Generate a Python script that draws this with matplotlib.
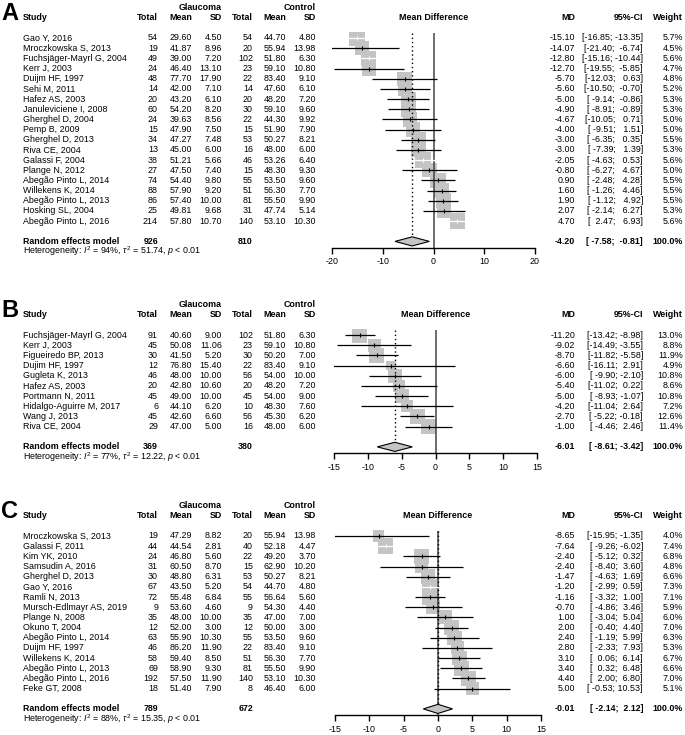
import numpy as np
import matplotlib
matplotlib.use("Agg")
import matplotlib.pyplot as plt
from matplotlib.patches import Rectangle, Polygon
from matplotlib.transforms import blended_transform_factory

plt.rcParams["font.family"] = ["Liberation Sans", "DejaVu Sans"]
plt.rcParams["mathtext.fontset"] = "custom"
plt.rcParams["mathtext.rm"] = "Liberation Sans"
plt.rcParams["mathtext.it"] = "Liberation Sans:italic"
plt.rcParams["mathtext.bf"] = "Liberation Sans:bold"

# ---------------- Panel A ----------------
a_study = ["Gao Y, 2016", "Mroczkowska S, 2013", "Fuchsjäger-Mayrl G, 2004", "Kerr J, 2003",
           "Duijm HF, 1997", "Sehi M, 2011", "Hafez AS, 2003", "Januleviciene I, 2008",
           "Gherghel D, 2004", "Pemp B, 2009", "Gherghel D, 2013", "Riva CE, 2004",
           "Galassi F, 2004", "Plange N, 2012", "Abegão Pinto L, 2014", "Willekens K, 2014",
           "Abegão Pinto L, 2013", "Hosking SL, 2004", "Abegão Pinto L, 2016"]
a_g_n = [54, 19, 49, 24, 48, 14, 20, 60, 24, 15, 34, 13, 38, 27, 74, 88, 86, 25, 214]
a_g_mean = [29.60, 41.87, 39.00, 46.40, 77.70, 42.00, 43.20, 54.20, 39.63, 47.90, 47.27, 45.00,
            51.21, 47.50, 54.40, 57.90, 57.40, 49.81, 57.80]
a_g_sd = [4.50, 8.96, 7.20, 13.10, 17.90, 7.10, 6.10, 8.20, 8.56, 7.50, 7.48, 6.00,
          5.66, 7.40, 9.80, 9.20, 10.00, 9.68, 10.70]
a_c_n = [54, 20, 102, 23, 22, 14, 20, 30, 22, 15, 53, 16, 46, 15, 55, 51, 81, 31, 140]
a_c_mean = [44.70, 55.94, 51.80, 59.10, 83.40, 47.60, 48.20, 59.10, 44.30, 51.90, 50.27, 48.00,
            53.26, 48.30, 53.50, 56.30, 55.50, 47.74, 53.10]
a_c_sd = [4.80, 13.98, 6.30, 10.80, 9.10, 6.10, 7.20, 9.60, 9.92, 7.90, 8.21, 6.00,
          6.40, 9.30, 9.60, 7.70, 9.90, 5.14, 10.30]
a_md = [-15.10, -14.07, -12.80, -12.70, -5.70, -5.60, -5.00, -4.90, -4.67, -4.00, -3.00, -3.00,
        -2.05, -0.80, 0.90, 1.60, 1.90, 2.07, 4.70]
a_lo = [-16.85, -21.40, -15.16, -19.55, -12.03, -10.50, -9.14, -8.91, -10.05, -9.51, -6.35, -7.39,
        -4.63, -6.27, -2.48, -1.26, -1.12, -2.14, 2.47]
a_hi = [-13.35, -6.74, -10.44, -5.85, 0.63, -0.70, -0.86, -0.89, 0.71, 1.51, 0.35, 1.39,
        0.53, 4.67, 4.28, 4.46, 4.92, 6.27, 6.93]
a_w = [5.7, 4.5, 5.6, 4.7, 4.8, 5.2, 5.3, 5.3, 5.0, 5.0, 5.5, 5.3, 5.6, 5.0, 5.5, 5.5, 5.5, 5.3, 5.6]
a_summary = [926, 810, -4.20, -7.58, -0.81]
a_het = ["94%", "51.74"]

# ---------------- Panel B ----------------
b_study = ["Fuchsjäger-Mayrl G, 2004", "Kerr J, 2003", "Figueiredo BP, 2013", "Dujim HF, 1997",
           "Gugleta K, 2013", "Hafez AS, 2003", "Portmann N, 2011", "Hidalgo-Aguirre M, 2017",
           "Wang J, 2013", "Riva CE, 2004"]
b_g_n = [91, 45, 30, 12, 46, 20, 45, 6, 45, 29]
b_g_mean = [40.60, 50.08, 41.50, 76.80, 48.00, 42.80, 49.00, 44.10, 42.60, 47.00]
b_g_sd = [9.00, 11.06, 5.20, 15.40, 10.00, 10.60, 10.00, 6.20, 6.60, 5.00]
b_c_n = [102, 23, 30, 22, 56, 20, 45, 10, 56, 16]
b_c_mean = [51.80, 59.10, 50.20, 83.40, 54.00, 48.20, 54.00, 48.30, 45.30, 48.00]
b_c_sd = [6.30, 10.80, 7.00, 9.10, 10.00, 7.20, 9.00, 7.60, 6.20, 6.00]
b_md = [-11.20, -9.02, -8.70, -6.60, -6.00, -5.40, -5.00, -4.20, -2.70, -1.00]
b_lo = [-13.42, -14.49, -11.82, -16.11, -9.90, -11.02, -8.93, -11.04, -5.22, -4.46]
b_hi = [-8.98, -3.55, -5.58, 2.91, -2.10, 0.22, -1.07, 2.64, -0.18, 2.46]
b_w = [13.0, 8.8, 11.9, 4.9, 10.8, 8.6, 10.8, 7.2, 12.6, 11.4]
b_summary = [369, 380, -6.01, -8.61, -3.42]
b_het = ["77%", "12.22"]

# ---------------- Panel C ----------------
c_study = ["Mroczkowska S, 2013", "Galassi F, 2011", "Kim YK, 2010", "Samsudin A, 2016",
           "Gherghel D, 2013", "Gao Y, 2016", "Ramli N, 2013", "Mursch-Edlmayr AS, 2019",
           "Plange N, 2008", "Okuno T, 2004", "Abegão Pinto L, 2014", "Duijm HF, 1997",
           "Willekens K, 2014", "Abegão Pinto L, 2013", "Abegão Pinto L, 2016", "Feke GT, 2008"]
c_g_n = [19, 44, 24, 31, 30, 67, 72, 9, 35, 12, 63, 46, 58, 69, 192, 18]
c_g_mean = [47.29, 44.54, 46.80, 60.50, 48.80, 43.50, 55.48, 53.60, 48.00, 52.00, 55.90, 86.20,
            59.40, 58.90, 57.50, 51.40]
c_g_sd = [8.82, 2.81, 5.60, 8.70, 6.31, 5.20, 6.84, 4.60, 10.00, 3.00, 10.30, 11.90,
          8.50, 9.30, 11.90, 7.90]
c_c_n = [20, 40, 22, 15, 53, 54, 55, 9, 35, 12, 55, 22, 51, 81, 140, 8]
c_c_mean = [55.94, 52.18, 49.20, 62.90, 50.27, 44.70, 56.64, 54.30, 47.00, 50.00, 53.50, 83.40,
            56.30, 55.50, 53.10, 46.40]
c_c_sd = [13.98, 4.47, 3.70, 10.20, 8.21, 4.80, 5.60, 4.40, 7.00, 3.00, 9.60, 9.10,
          7.70, 9.90, 10.30, 6.00]
c_md = [-8.65, -7.64, -2.40, -2.40, -1.47, -1.20, -1.16, -0.70, 1.00, 2.00, 2.40, 2.80,
        3.10, 3.40, 4.40, 5.00]
c_lo = [-15.95, -9.26, -5.12, -8.40, -4.63, -2.99, -3.32, -4.86, -3.04, -0.40, -1.19, -2.33,
        0.06, 0.32, 2.00, -0.53]
c_hi = [-1.35, -6.02, 0.32, 3.60, 1.69, 0.59, 1.00, 3.46, 5.04, 4.40, 5.99, 7.93,
        6.14, 6.48, 6.80, 10.53]
c_w = [4.0, 7.4, 6.8, 4.8, 6.6, 7.3, 7.1, 5.9, 6.0, 7.0, 6.3, 5.3, 6.7, 6.6, 7.0, 5.1]
c_summary = [789, 672, -0.01, -2.14, 2.12]
c_het = ["88%", "15.35"]

W, H = 685, 735
FS = 6.4
ROW = 10.17  # pixel height of one table row

fig = plt.figure(figsize=(W / 100, H / 100), dpi=100)

# column anchors (pixels, right aligned except study)
X_STUDY = 23
X_GT, X_GM, X_GS = 158, 192, 222
X_CT, X_CM, X_CS = 253, 286, 316
X_MD, X_CI, X_WT = 575, 643, 683


def fx(px):
    return px / W


def draw_panel(letter, y0, xpx, xlim, ticks, study, gn, gm, gs, cn, cm, cs,
               md, lo, hi, w, summary, het):
    n = len(study)
    top = y0 - 0.6 * ROW
    bot = y0 + (n + 1.6) * ROW
    ax = fig.add_axes([fx(xpx[0]), 1 - bot / H, fx(xpx[1] - xpx[0]), (bot - top) / H])
    ax.set_xlim(xlim)
    ax.set_ylim(n + 1.6, -0.6)
    ax.patch.set_alpha(0)
    for s in ["top", "left", "right"]:
        ax.spines[s].set_visible(False)
    ax.spines["bottom"].set_linewidth(1.0)
    ax.set_yticks([])
    ax.set_xticks(ticks)
    ax.set_xticklabels([f"{t:g}" for t in ticks])
    ax.tick_params(axis="x", direction="out", length=4, width=1.0, labelsize=FS, pad=3)

    ppu = (xpx[1] - xpx[0]) / (xlim[1] - xlim[0])
    wmax = max(w)
    ys = np.arange(n)
    for i in range(n):
        side = 15.5 * np.sqrt(w[i] / wmax)
        ax.add_patch(Rectangle((md[i] - side / ppu / 2, ys[i] - side / ROW / 2),
                               side / ppu, side / ROW, facecolor="#c4c4c4",
                               edgecolor="none", zorder=2))
        col = "white" if (hi[i] - lo[i]) * ppu < 27 else "black"
        ax.hlines(ys[i], lo[i], hi[i], color=col, lw=0.9, zorder=3)
        ax.plot(md[i], ys[i], marker="|", ms=3, mew=0.8, color=col, zorder=3)

    yd = n + 1
    s_md, s_lo, s_hi = summary[2], summary[3], summary[4]
    ax.vlines(0, -0.5, n + 1.6, color="#444444", lw=1.1, zorder=2.5)
    ax.vlines(s_md, -0.5, yd - 0.45, color="black", lw=1.0,
              linestyles=(0, (1, 2)), zorder=2.5)
    ax.add_patch(Polygon([(s_lo, yd), (s_md, yd - 0.45), (s_hi, yd), (s_md, yd + 0.45)],
                         closed=True, facecolor="#c4c4c4", edgecolor="black",
                         lw=0.8, zorder=3))

    tr = blended_transform_factory(fig.transFigure, ax.transData)

    def t(px, y, s, ha="right", bold=False):
        fig.text(fx(px), y, s, transform=tr, ha=ha, va="center", fontsize=FS,
                 fontweight="bold" if bold else "normal")

    # headers
    fig.text(fx(1), -1.75, letter, transform=tr, ha="left", va="baseline",
             fontsize=17, fontweight="bold")
    t(X_GS, -3, "Glaucoma", bold=True)
    t(X_CS, -3, "Control", bold=True)
    t(X_STUDY, -2, "Study", ha="left", bold=True)
    for px, s in [(X_GT, "Total"), (X_GM, "Mean"), (X_GS, "SD"),
                  (X_CT, "Total"), (X_CM, "Mean"), (X_CS, "SD"),
                  (X_MD, "MD"), (X_CI, "95%-CI"), (X_WT, "Weight")]:
        t(px, -2, s, bold=True)
    t((xpx[0] + xpx[1]) / 2, -2, "Mean Difference", ha="center", bold=True)

    # ci strings with padded numbers
    lo_s = [f"{v:.2f}" for v in list(lo) + [s_lo]]
    hi_s = [f"{v:.2f}" for v in list(hi) + [s_hi]]
    lw_ = max(len(s) for s in lo_s)
    hw_ = max(len(s) for s in hi_s)
    ci_s = [f"[{a:>{lw_}}; {b:>{hw_}}]" for a, b in zip(lo_s, hi_s)]

    for i in range(n):
        t(X_STUDY, i, study[i], ha="left")
        t(X_GT, i, f"{gn[i]}")
        t(X_GM, i, f"{gm[i]:.2f}")
        t(X_GS, i, f"{gs[i]:.2f}")
        t(X_CT, i, f"{cn[i]}")
        t(X_CM, i, f"{cm[i]:.2f}")
        t(X_CS, i, f"{cs[i]:.2f}")
        t(X_MD, i, f"{md[i]:.2f}")
        t(X_CI, i, ci_s[i])
        t(X_WT, i, f"{w[i]:.1f}%")

    t(X_STUDY, yd, "Random effects model", ha="left", bold=True)
    t(X_GT, yd, f"{summary[0]}", bold=True)
    t(X_CT, yd, f"{summary[1]}", bold=True)
    t(X_MD, yd, f"{s_md:.2f}", bold=True)
    t(X_CI, yd, ci_s[-1], bold=True)
    t(X_WT, yd, "100.0%", bold=True)
    t(X_STUDY, n + 2,
      r"Heterogeneity: $I^2$ = " + het[0] + r", $\tau^2$ = " + het[1] + r", $p$ < 0.01",
      ha="left")


draw_panel("A", 38, (332, 535), (-20, 20), [-20, -10, 0, 10, 20],
           a_study, a_g_n, a_g_mean, a_g_sd, a_c_n, a_c_mean, a_c_sd,
           a_md, a_lo, a_hi, a_w, a_summary, a_het)
draw_panel("B", 335, (334, 537), (-15, 15), [-15, -10, -5, 0, 5, 10, 15],
           b_study, b_g_n, b_g_mean, b_g_sd, b_c_n, b_c_mean, b_c_sd,
           b_md, b_lo, b_hi, b_w, b_summary, b_het)
draw_panel("C", 536, (335, 541), (-15, 15), [-15, -10, -5, 0, 5, 10, 15],
           c_study, c_g_n, c_g_mean, c_g_sd, c_c_n, c_c_mean, c_c_sd,
           c_md, c_lo, c_hi, c_w, c_summary, c_het)

fig.savefig("out.png", dpi=100)
